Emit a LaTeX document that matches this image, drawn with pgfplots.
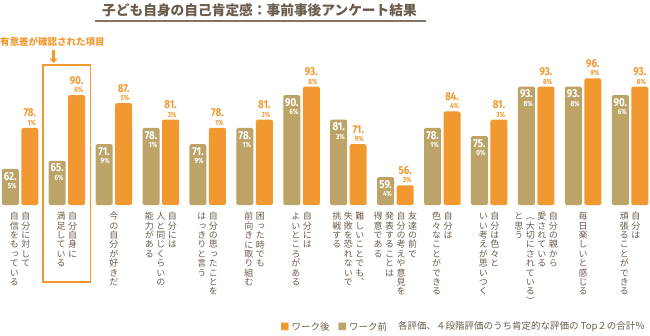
\documentclass[border=0pt]{standalone}
\usepackage{pgfplots}
\pgfplotsset{compat=1.18}
\usepackage{pgfplotstable}
\usepackage{fontspec}
\usetikzlibrary{arrows.meta}
\setmainfont{Noto Sans CJK JP}
\newfontfamily\cjk{Noto Sans CJK JP}
\newfontfamily\cjkv[RawFeature=+vert]{Noto Sans CJK JP}
\newfontfamily\numfont[FakeStretch=0.85]{Fira Sans}
\definecolor{orng}{HTML}{F29830}
\definecolor{tanc}{HTML}{BCA468}
\definecolor{txt}{HTML}{6B5C4C}

\def\vchars#1{\ifx#1\relax\else\hbox to 10pt{\hss#1\hss}\expandafter\vchars\fi}
\newcommand\vc[1]{\vtop{\baselineskip=9.4pt\lineskiplimit=-20pt\lineskip=0pt\vchars#1\relax}}
\def\splitdot#1.#2\relax{\vbox{\baselineskip=8.5pt\lineskiplimit=-20pt\lineskip=0pt\halign{\hfil##\cr\fontsize{11.5}{11.5}\selectfont#1.\cr\fontsize{7.5}{7.5}\selectfont#2\%\cr}}}

\pgfplotstableread{
x pre post
0 62.5 78.1
1 65.6 90.6
2 71.9 87.5
3 78.1 81.3
4 71.9 78.1
5 78.1 81.3
6 90.6 93.8
7 81.3 71.9
8 59.4 56.3
9 78.1 84.4
10 75.0 81.3
11 93.8 93.8
12 93.8 96.9
13 90.6 93.8
}\datatab

\begin{document}
\begin{tikzpicture}
\begin{axis}[
  at={(0pt,0pt)}, anchor=south west,
  width=650pt, height=150pt, scale only axis,
  xmin=-0.4264, xmax=13.4264, ymin=48.8, ymax=105.83,
  ybar=2.5pt, bar width=17pt,
  axis line style={draw=none}, ymajorticks=false, major tick length=0pt,
  xtick={0,...,13},
  xticklabels={
    {\hbox{\vc{自信をもっている}\hskip1.5pt\vc{自分に対して}}},
    {\hbox{\vc{満足している}\hskip1.5pt\vc{自分自身に}}},
    {\hbox{\vc{今の自分が好きだ}}},
    {\hbox{\vc{能力がある}\hskip1.5pt\vc{人と同じくらいの}\hskip1.5pt\vc{自分には}}},
    {\hbox{\vc{はっきりと言う}\hskip1.5pt\vc{自分の思ったことを}}},
    {\hbox{\vc{前向きに取り組む}\hskip1.5pt\vc{困った時でも}}},
    {\hbox{\vc{よいところがある}\hskip1.5pt\vc{自分には}}},
    {\hbox{\vc{挑戦する}\hskip1.5pt\vc{失敗を恐れないで}\hskip1.5pt\vc{難しいことでも、}}},
    {\hbox{\vc{得意である}\hskip1.5pt\vc{発表することは}\hskip1.5pt\vc{自分の考えや意見を}\hskip1.5pt\vc{友達の前で}}},
    {\hbox{\vc{色々なことができる}\hskip1.5pt\vc{自分は}}},
    {\hbox{\vc{いい考えが思いつく}\hskip1.5pt\vc{自分は色々と}}},
    {\hbox{\vc{と思う}\hskip1.5pt\vc{（大切にされている）}\hskip1.5pt\vc{愛されている}\hskip1.5pt\vc{自分の親から}}},
    {\hbox{\vc{毎日楽しいと感じる}}},
    {\hbox{\vc{頑張ることができる}\hskip1.5pt\vc{自分は}}}
  },
  x tick label style={anchor=north, inner sep=0pt, yshift=-7pt, font=\cjkv\fontsize{9}{9.4}\selectfont, text=txt},
  point meta=explicit symbolic,
  nodes near coords={\edef\tmpm{\pgfplotspointmeta}\expandafter\splitdot\tmpm\relax},
]
\addplot[fill=tanc, draw=none, rounded corners=1.5pt,
  every node near coord/.append style={anchor=north, inner sep=0pt, yshift=-3pt, text=white, font=\numfont\bfseries}]
  table[x=x, y=pre, meta=pre] {\datatab};
\addplot[fill=orng, draw=none, rounded corners=1.5pt,
  every node near coord/.append style={anchor=south, inner sep=0pt, yshift=2pt, text=orng, font=\numfont\bfseries}]
  table[x=x, y=post, meta=post] {\datatab};
\end{axis}

\draw[orng, line width=1.1pt] (43pt,-77pt) rectangle (90.7pt,140pt);
\node[anchor=west, inner sep=0pt, text=orng, font={\cjk\bfseries\fontsize{9.5}{10}\selectfont}] at (0pt,163pt) {有意差が確認された項目};
\draw[orng, line width=2.6pt, -{Triangle[width=8pt,length=4.5pt]}] (53.5pt,155pt) -- (53.5pt,142pt);

\node[anchor=center, inner sep=0pt, text=txt, font={\cjk\bfseries\fontsize{13.7}{14}\selectfont}] at (259.5pt,195pt) {子ども自身の自己肯定感：事前事後アンケート結果};
\draw[txt!85, line width=1.3pt] (95pt,184pt) -- (426pt,184pt);

\node[anchor=west, inner sep=0pt, font=\cjk\fontsize{9.5}{10}\selectfont, text=txt] at (280pt,-122pt) {\textcolor{orng}{■}\hspace{2pt}ワーク後\hspace{8pt}\textcolor{tanc}{■}\hspace{2pt}ワーク前};
\node[anchor=west, inner sep=0pt, font=\cjk\fontsize{9.5}{10}\selectfont, text=txt] at (398pt,-122pt) {各評価、４段階評価のうち肯定的な評価の Top２の合計％};

\pgfresetboundingbox
\useasboundingbox (0pt,-130pt) rectangle (650pt,205pt);
\end{tikzpicture}
\end{document}
